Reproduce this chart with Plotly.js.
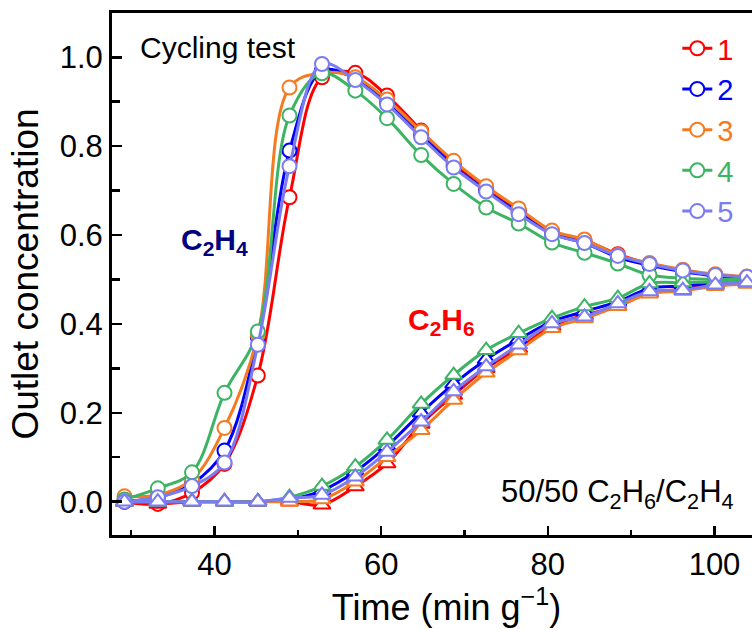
<!DOCTYPE html>
<html>
<head>
<meta charset="utf-8">
<script src="https://cdn.plot.ly/plotly-3.0.1.min.js"></script>
<style>
html,body{margin:0;padding:0;overflow:hidden;background:#fff;}
#chart{width:800px;height:630px;}
</style>
</head>
<body>
<div id="chart"></div>
<script>
// Time (min g^-1) sampling points
const timeX = [29.2, 33.2, 37.3, 41.2, 45.2, 49.0, 52.9, 56.9, 60.7, 64.8, 68.7, 72.6, 76.5, 80.5, 84.4, 88.4, 92.2, 96.2, 100.1, 103.9];

const cycleNames = ["1", "2", "3", "4", "5"];
const cycleColors = ["#FF0000", "#0000FF", "#F57B20", "#3CB464", "#7B7BF2"];

// C2H4 outlet concentration per cycle
const c2h4_1 = [0.000, -0.005, 0.020, 0.085, 0.284, 0.685, 0.955, 0.965, 0.914, 0.835, 0.760, 0.703, 0.655, 0.607, 0.588, 0.557, 0.535, 0.520, 0.510, 0.505];
const c2h4_2 = [0.000, 0.010, 0.040, 0.115, 0.370, 0.790, 0.970, 0.952, 0.900, 0.825, 0.755, 0.700, 0.650, 0.603, 0.582, 0.550, 0.532, 0.518, 0.508, 0.503];
const c2h4_3 = [0.012, 0.015, 0.050, 0.166, 0.375, 0.932, 0.965, 0.955, 0.905, 0.833, 0.767, 0.710, 0.660, 0.610, 0.590, 0.555, 0.537, 0.522, 0.512, 0.507];
const c2h4_4 = [0.005, 0.030, 0.066, 0.245, 0.383, 0.869, 0.964, 0.925, 0.863, 0.780, 0.715, 0.662, 0.626, 0.583, 0.560, 0.536, 0.510, 0.503, 0.500, 0.500];
const c2h4_5 = [0.000, 0.010, 0.035, 0.088, 0.353, 0.755, 0.985, 0.949, 0.894, 0.820, 0.752, 0.698, 0.647, 0.602, 0.582, 0.553, 0.535, 0.520, 0.510, 0.506];

// C2H6 outlet concentration per cycle
const c2h6_1 = [0.000, -0.005, 0.000, 0.000, 0.000, 0.000, -0.007, 0.034, 0.086, 0.175, 0.240, 0.300, 0.345, 0.395, 0.420, 0.440, 0.470, 0.478, 0.488, 0.492];
const c2h6_2 = [0.000, 0.000, 0.000, 0.000, 0.000, 0.005, 0.025, 0.068, 0.125, 0.200, 0.265, 0.320, 0.365, 0.405, 0.428, 0.450, 0.480, 0.485, 0.492, 0.497];
const c2h6_3 = [0.000, 0.000, 0.000, 0.000, 0.000, 0.000, 0.005, 0.045, 0.100, 0.161, 0.229, 0.290, 0.340, 0.390, 0.412, 0.440, 0.468, 0.474, 0.485, 0.490];
const c2h6_4 = [0.000, 0.000, 0.000, 0.000, 0.000, 0.010, 0.035, 0.079, 0.139, 0.220, 0.285, 0.341, 0.379, 0.413, 0.439, 0.458, 0.491, 0.493, 0.495, 0.500];
const c2h6_5 = [0.000, 0.000, 0.000, 0.000, 0.000, 0.008, 0.015, 0.056, 0.112, 0.180, 0.248, 0.304, 0.353, 0.401, 0.416, 0.446, 0.473, 0.476, 0.488, 0.493];

const xTickVals = [40, 60, 80, 100];
const yTickVals = [0.0, 0.2, 0.4, 0.6, 0.8, 1.0];

const c2h4All = [c2h4_1, c2h4_2, c2h4_3, c2h4_4, c2h4_5];
const c2h6All = [c2h6_1, c2h6_2, c2h6_3, c2h6_4, c2h6_5];

const FONT = "Liberation Sans, Arial, sans-serif";
const traces = [];
for (let i = 0; i < cycleNames.length; i++) {
  const col = cycleColors[i];
  traces.push({
    x: timeX, y: c2h4All[i], type: "scatter", mode: "lines+markers",
    name: '<span style="color:' + col + '">' + cycleNames[i] + '</span>',
    legendgroup: "g" + i, showlegend: true,
    line: {color: col, width: 3, shape: "spline", smoothing: 1},
    marker: {symbol: "circle", size: 14, color: "#FFFFFF", line: {color: col, width: 2}},
    cliponaxis: true
  });
  traces.push({
    x: timeX, y: c2h6All[i], type: "scatter", mode: "lines+markers",
    name: "C2H6 " + cycleNames[i], legendgroup: "g" + i, showlegend: false,
    line: {color: col, width: 3, shape: "spline", smoothing: 1},
    marker: {symbol: "triangle-up", size: 15, color: "#FFFFFF", line: {color: col, width: 2}},
    cliponaxis: true
  });
}

const layout = {
  width: 800, height: 630,
  margin: {l: 112, r: 19, t: 13, b: 95},
  paper_bgcolor: "#FFFFFF", plot_bgcolor: "#FFFFFF",
  font: {family: FONT, color: "#000000", size: 30},
  showlegend: true,
  legend: {
    x: 0.845, y: 0.981, xanchor: "left", yanchor: "top",
    bgcolor: "rgba(0,0,0,0)", borderwidth: 0,
    font: {family: FONT, size: 29, color: "#000000"},
    tracegroupgap: 0
  },
  xaxis: {
    range: [27.7, 107.98], tickvals: xTickVals, ticktext: xTickVals.map(String),
    ticks: "inside", ticklen: 9, tickwidth: 2.5, tickcolor: "#000",
    minor: {dtick: 10, tick0: 0, ticks: "inside", ticklen: 5, tickwidth: 2.5, tickcolor: "#000", showgrid: false},
    showline: true, linewidth: 3, linecolor: "#000", mirror: true,
    showgrid: false, zeroline: false,
    tickfont: {family: FONT, size: 31, color: "#000"},
    title: {text: "Time (min g<sup>\u22121</sup>)", font: {family: FONT, size: 36, color: "#000"}, standoff: 0}
  },
  yaxis: {
    range: [-0.075, 1.0997], tickvals: yTickVals, ticktext: yTickVals.map(v => v.toFixed(1)),
    ticks: "inside", ticklen: 10, tickwidth: 2.5, tickcolor: "#000",
    minor: {dtick: 0.1, tick0: 0, ticks: "inside", ticklen: 8, tickwidth: 2.5, tickcolor: "#000", showgrid: false},
    showline: true, linewidth: 3, linecolor: "#000", mirror: true,
    showgrid: false, zeroline: false,
    tickfont: {family: FONT, size: 31, color: "#000"},
    title: {text: "Outlet concentration", font: {family: FONT, size: 37, color: "#000"}, standoff: 10}
  },
  annotations: [
    {text: "Cycling test", x: 30.8, y: 1.023, xref: "x", yref: "y", xanchor: "left", yanchor: "middle",
     showarrow: false, font: {family: FONT, size: 30, color: "#000"}},
    {text: "<b>C<sub>2</sub>H<sub>4</sub></b>", x: 40.0, y: 0.585, xref: "x", yref: "y", xanchor: "center", yanchor: "middle",
     showarrow: false, font: {family: FONT, size: 30, color: "#000080"}},
    {text: "<b>C<sub>2</sub>H<sub>6</sub></b>", x: 67.2, y: 0.405, xref: "x", yref: "y", xanchor: "center", yanchor: "middle",
     showarrow: false, font: {family: FONT, size: 30, color: "#FF0000"}},
    {text: "50/50 C<sub>2</sub>H<sub>6</sub>/C<sub>2</sub>H<sub>4</sub>", x: 102.6, y: 0.018, xref: "x", yref: "y", xanchor: "right", yanchor: "middle",
     showarrow: false, font: {family: FONT, size: 31, color: "#000"}}
  ]
};

Plotly.newPlot("chart", traces, layout, {staticPlot: true, displayModeBar: false});
</script>
</body>
</html>
